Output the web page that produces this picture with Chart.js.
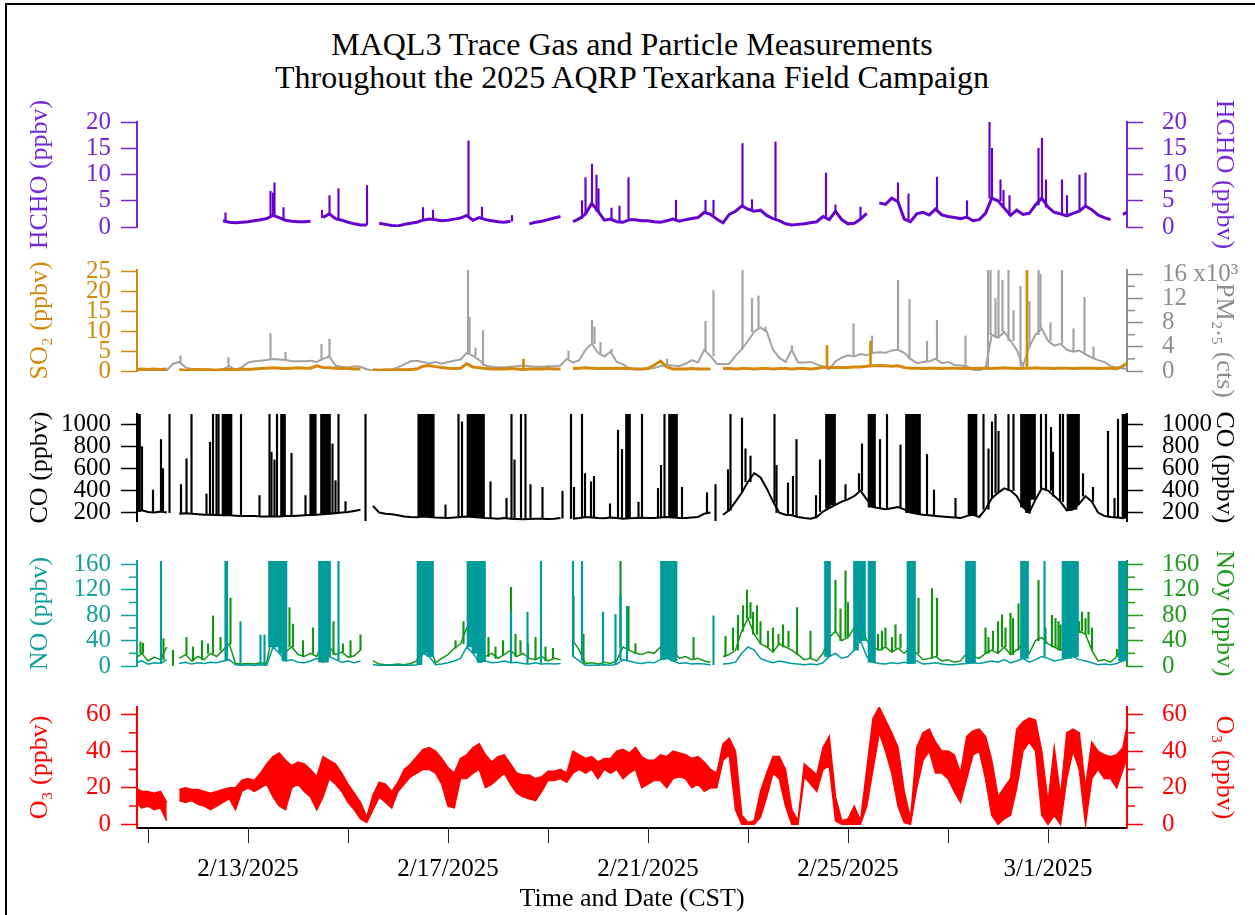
<!DOCTYPE html>
<html lang="en">
<head>
<meta charset="utf-8">
<title>MAQL3 - 2025 AQRP Texarkana</title>
<script src="https://cdn.jsdelivr.net/npm/chart.js@4.4.1/dist/chart.umd.min.js"></script>
<style>
body { margin: 0; background: #fff; font-family: 'Liberation Serif', 'Times New Roman', serif; }
#page { position: relative; width: 1255px; height: 915px; overflow: hidden; }
#frame { position: absolute; left: 5px; top: 3px; width: 1270px; height: 930px; border-left: 2px solid #000; border-top: 2px solid #000; }
#title { position: absolute; left: 132px; width: 1000px; top: 28px; text-align: center; font-size: 32px; line-height: 33px; color: #000; }
canvas { position: absolute; left: 0; }
</style>
</head>
<body>
<div id="page">
  <div id="frame"></div>
  <div id="title">MAQL3 Trace Gas and Particle Measurements<br>Throughout the 2025 AQRP Texarkana Field Campaign</div>
  <canvas id="cHcho"></canvas>
  <canvas id="cSo2"></canvas>
  <canvas id="cCo"></canvas>
  <canvas id="cNo"></canvas>
  <canvas id="cO3"></canvas>
</div>
<script>
// time in days since 2/10/2025 00:00 CST; series below are 3-hour values starting 2/10 18:00
const T0 = 0.75, STEP = 0.125;
const XMIN = 0.78, XMAX = 20.58;
const dayTicks = [1, 3, 5, 7, 9, 11, 13, 15, 17, 19];
const dayLabels = [3, 7, 11, 15, 19];

// one row = one day (8 x 3 h)
const hcho = [
  null,null,null,null,null,null,null,null,
  null,null,null,null,null,null,1.2,0.9,
  0.8,0.9,1.0,1.2,1.4,1.6,2.2,1.8,
  1.3,1.1,1.0,1.0,1.1,null,1.8,2.5,
  1.6,1.3,0.9,0.6,0.4,0.4,null,0.7,
  0.5,0.3,0.2,0.5,0.7,0.9,1.3,1.5,
  1.4,1.2,1.3,1.5,1.7,2.2,1.3,1.8,
  1.4,1.2,1.0,0.9,1.1,null,null,0.6,
  0.9,1.1,1.4,1.7,2.0,null,1.0,1.6,
  2.5,4.5,3.0,1.3,1.5,1.0,0.9,1.4,
  1.4,1.2,1.2,1.0,0.9,1.2,1.5,1.1,
  1.4,1.6,1.8,2.8,2.4,1.5,0.8,2.4,
  3.0,4.0,3.4,3.0,3.2,2.2,1.6,1.2,
  0.6,0.4,0.5,0.6,0.8,1.0,2.0,1.4,
  3.0,1.4,0.6,0.7,1.5,2.6,null,4.6,
  4.3,5.5,4.8,1.5,1.0,2.5,2.8,2.3,
  3.4,2.3,2.0,1.8,1.6,1.9,1.2,1.4,
  2.6,5.5,5.0,3.6,2.2,3.2,2.4,2.6,
  4.2,5.5,3.8,2.8,2.5,2.1,2.6,3.0,
  4.0,3.3,2.3,1.8,1.4,null,2.4,3.0
];
const so2 = [
  0.4,0.5,0.4,0.5,0.4,0.5,null,0.3,
  0.2,0.3,0.4,0.3,0.3,0.2,0.3,0.4,
  0.3,0.5,0.4,0.5,0.6,0.7,0.8,0.7,
  0.6,0.7,0.8,0.7,0.7,1.3,0.9,0.8,
  0.7,0.6,0.6,0.5,0.5,null,0.3,0.2,
  0.3,0.2,0.3,0.3,0.4,0.5,1.2,1.4,
  1.1,0.9,0.7,0.6,0.7,1.8,1.0,0.8,
  0.6,0.5,0.5,0.5,0.6,0.5,0.4,0.5,
  0.5,0.5,0.6,0.5,0.5,null,0.6,0.7,
  0.8,0.7,0.6,0.6,0.6,0.7,0.6,0.6,
  0.5,0.5,0.6,1.5,2.5,1.0,0.5,0.5,
  0.5,0.6,0.5,0.5,0.5,null,0.6,0.6,
  0.5,0.6,0.6,0.5,0.6,0.6,0.5,0.6,
  0.6,0.5,0.6,0.6,0.5,0.6,1.0,0.9,
  0.9,0.9,0.9,1.0,1.0,1.2,1.3,1.4,
  1.3,1.2,1.3,0.9,0.7,0.7,0.6,0.7,
  0.7,0.6,0.7,0.7,0.6,0.7,0.6,0.7,
  0.7,0.6,0.7,0.8,0.7,0.6,0.7,0.7,
  0.8,0.7,0.7,0.6,0.7,0.7,0.6,0.7,
  0.7,0.7,0.6,0.7,0.7,0.6,1.2,2.5
];
// PM2.5 in thousands of counts
const pm25 = [
  0.1,0.1,0.1,0.1,0.1,0.1,1.2,1.5,
  0.6,0.3,0.2,0.3,0.1,0.2,0.3,0.8,
  0.2,0.6,1.4,1.6,1.7,1.8,2.0,1.9,
  1.8,1.6,1.6,1.6,1.7,1.5,2.0,2.4,
  0.9,0.7,0.6,0.8,0.7,0.3,0.1,0.0,
  0.1,0.3,0.6,1.1,1.6,1.7,1.5,1.3,
  1.5,1.2,1.5,1.7,1.9,3.0,2.5,1.8,
  0.9,0.7,0.6,0.6,0.7,0.8,0.9,0.8,
  0.7,0.7,0.8,0.8,0.9,2.0,1.4,1.8,
  3.5,4.5,3.0,2.4,3.2,1.5,1.1,0.4,
  0.3,0.3,0.4,0.5,0.8,1.0,0.9,0.8,
  1.2,1.8,1.4,3.5,2.5,1.2,1.1,1.2,
  2.5,3.6,5.0,6.5,7.2,6.5,3.5,2.2,
  1.5,3.5,1.4,1.4,1.5,1.1,0.7,0.3,
  1.6,2.2,2.6,2.4,2.8,2.6,3.0,3.1,
  3.0,3.4,3.5,3.0,2.0,1.3,1.5,1.6,
  2.0,1.3,1.5,1.0,0.9,0.8,0.2,0.1,
  0.5,6.0,5.5,6.5,5.0,3.5,0.8,4.0,
  6.0,7.0,5.0,4.2,4.5,3.5,3.2,3.4,
  2.8,2.2,1.8,1.5,0.8,0.6,0.4,0.3
];
const co = [
  210,220,205,200,210,200,null,190,
  195,190,185,180,180,178,175,175,
  172,170,168,168,165,165,165,165,
  168,170,172,175,178,180,185,190,
  195,200,205,215,225,null,260,200,
  190,185,175,165,160,158,165,160,
  155,152,150,155,160,165,160,155,
  150,148,145,150,145,142,140,142,
  145,143,142,145,150,null,145,150,
  160,155,150,148,155,150,145,148,
  150,152,150,150,155,160,155,150,
  150,155,160,190,200,null,180,220,
  300,380,480,560,520,420,300,200,
  180,175,160,150,145,160,210,240,
  270,300,320,350,400,320,250,240,
  230,240,250,230,200,190,180,175,
  170,165,160,155,150,170,180,160,
  230,330,380,420,400,350,250,200,
  320,420,400,350,300,220,230,280,
  350,300,200,170,160,155,150,400
];
const no = [
  5,8,3,5,4,10,null,4,
  6,3,5,4,6,5,8,10,
  2,1,2,1,2,1,30,20,
  8,10,6,5,8,12,6,15,
  10,6,8,5,8,null,2,1,
  1,1,1,1,1,2,20,15,
  2,3,5,8,12,30,20,6,
  8,5,6,8,5,6,4,3,
  5,3,4,3,4,null,15,8,
  1,1,1,2,1,3,10,8,
  5,4,6,5,10,12,8,4,
  5,3,4,3,2,null,3,4,
  6,20,30,25,12,8,5,8,
  6,4,3,2,3,2,5,15,
  20,12,15,25,40,15,6,4,
  3,5,4,6,4,8,3,4,
  5,3,2,2,3,4,5,4,
  6,8,6,10,5,8,12,6,
  10,15,12,8,10,12,15,10,
  8,5,2,3,2,4,8,20
];
const noy = [
  12,20,8,14,10,30,null,12,
  18,8,15,10,20,15,25,35,
  4,3,4,3,5,4,60,50,
  22,30,18,15,20,15,40,30,
  18,22,14,16,25,null,8,3,
  2,2,3,2,4,8,40,35,
  5,12,18,28,35,60,50,20,
  15,20,12,18,25,15,20,12,
  10,15,8,12,10,null,40,25,
  4,5,3,6,4,8,30,25,
  20,18,22,20,30,30,25,12,
  15,10,12,8,6,null,15,18,
  25,55,75,50,35,30,22,35,
  30,25,18,10,12,8,20,45,
  55,40,45,60,70,40,30,25,
  30,22,28,20,30,20,10,12,
  15,8,10,6,8,20,15,12,
  20,25,20,30,18,25,35,20,
  40,45,35,30,25,30,40,55,
  50,25,8,10,6,15,25,35
];
// O3: upper and lower edge of the noisy trace in each 3-hour step
const o3Hi = [
  20,18,18,17,18,12,null,19,
  20,19,19,18,17,18,19,20,
  20,24,25,24,28,33,37,39,
  35,32,34,33,30,26,37,35,
  33,28,22,17,12,4,16,23,
  22,18,23,30,33,37,41,42,
  40,36,31,28,36,38,42,44,
  38,34,37,38,33,28,27,27,
  25,26,29,29,30,28,40,38,
  36,37,34,36,36,40,41,39,
  42,37,35,35,38,37,40,39,
  38,36,37,34,30,28,44,47,
  40,5,1,2,18,28,37,37,
  30,8,2,33,30,27,42,48,
  15,2,3,10,2,30,58,64,
  57,50,42,18,3,42,50,52,
  45,40,40,38,28,48,51,52,
  48,35,15,20,25,52,56,58,
  57,40,12,42,15,50,52,50,
  20,45,40,38,37,38,42,60
];
const o3Lo = [
  12,9,10,8,9,2,null,13,
  12,13,11,10,8,10,12,14,
  8,18,20,18,20,22,15,10,
  8,20,22,18,15,8,15,25,
  22,18,12,8,3,1,8,15,
  12,9,18,22,26,28,30,30,
  28,22,10,9,25,25,28,30,
  20,22,25,28,22,17,15,14,
  13,18,24,24,25,23,28,30,
  28,30,25,30,28,30,25,28,
  30,20,22,24,24,20,25,26,
  25,20,22,18,20,20,35,38,
  8,0,0,0,4,15,28,25,
  10,0,0,26,22,18,30,32,
  2,0,0,0,0,10,30,50,
  40,28,10,1,0,20,35,40,
  28,28,25,18,12,25,38,40,
  25,5,0,3,5,20,40,45,
  40,5,0,5,0,25,40,30,
  0,25,30,25,25,20,30,40
];

// short excursions [day, peak value]
const hchoSpikes = [[2.55,2.7],[3.45,6.8],[3.5,6.5],[3.53,8.4],[3.71,3.7],[4.48,3.2],[4.63,6.0],[4.81,7.3],[5.38,7.9],[6.5,3.7],[6.7,3.2],[7.41,16.4],[7.68,3.8],[8.28,2.2],[9.68,5.0],[9.75,9.4],[9.88,12],[9.97,9.9],[10.01,7.3],[10.27,3.6],[10.43,4.0],[10.61,9.4],[11.56,5.1],[12.15,5.1],[12.31,5.1],[12.89,15.9],[13.08,5.2],[13.55,16.2],[14.56,10.3],[14.75,4.2],[15.25,3.8],[16.0,8.4],[16.21,6.3],[16.78,9.5],[17.38,5.0],[17.83,20],[17.88,15],[18.05,9.0],[18.11,7.0],[18.23,6.0],[18.81,15],[18.88,16.9],[18.96,9.0],[19.28,9.0],[19.38,6.0],[19.63,9.9],[19.75,10.3]];
const so2Spikes = [[8.51,3.0],[14.58,6.4],[15.45,7.5],[18.58,26]];
const pmSpikes = [[1.65,2.5],[2.61,2.2],[3.45,6.2],[3.75,3.1],[4.47,4.4],[4.63,5.3],[7.4,17],[7.43,8.9],[7.55,3.8],[7.7,6.7],[9.41,3.3],[9.88,8.4],[9.93,7.3],[10.05,4.7],[10.27,3.6],[11.38,2.0],[12.15,8.2],[12.31,13.3],[12.89,17],[13.08,12],[13.21,12.4],[13.35,7.3],[13.88,4.2],[15.11,7.8],[15.48,5.8],[16.0,15],[16.23,11.8],[16.58,4.9],[16.78,8.4],[17.35,5.8],[17.8,17],[17.85,17],[17.95,12],[18.01,17],[18.09,15],[18.21,17],[18.31,10],[18.45,14],[18.63,11.5],[18.81,17],[18.85,16],[19.05,8],[19.28,17],[19.51,7],[19.73,12.2],[19.91,4.0]];
const coSpikes = [[0.88,800],[1.1,405],[1.26,865],[1.3,600],[1.43,1100],[1.66,455],[1.77,690],[1.87,1100],[2.17,370],[2.24,840],[2.3,1100],[2.37,1100],[2.41,1100],[2.86,1100],[3.23,355],[3.43,1100],[3.47,750],[3.53,680],[3.58,1100],[3.87,740],[4.15,355],[4.25,1100],[4.35,1100],[4.69,825],[4.75,490],[4.81,1100],[4.95,300],[5.35,1100],[6.41,1100],[6.71,1100],[6.95,270],[7.21,1100],[7.28,1025],[7.85,480],[8.17,330],[8.27,1100],[8.33,680],[8.46,1100],[8.55,1100],[8.65,455],[8.89,430],[9.29,395],[9.46,1100],[9.52,430],[9.68,1100],[9.74,555],[9.86,480],[9.92,530],[10.24,280],[10.4,950],[10.48,775],[10.81,295],[10.88,1100],[11.2,420],[11.26,630],[11.33,1100],[11.68,430],[12.18,380],[12.35,455],[12.6,590],[12.65,1100],[12.88,1060],[12.95,780],[13.05,715],[13.53,1100],[13.57,630],[13.8,470],[13.9,530],[13.97,865],[14.36,355],[14.44,680],[14.95,455],[15.22,555],[15.28,825],[15.64,865],[15.78,1100],[16.05,815],[16.58,730],[16.72,405],[17.15,330],[17.71,1100],[17.81,780],[17.88,1025],[17.95,1100],[18.01,940],[18.21,1100],[18.31,1100],[18.86,1100],[18.96,1100],[19.06,975],[19.1,750],[19.24,1100],[19.3,1100],[19.7,555],[19.9,430],[20.2,940],[20.33,330],[20.4,1050]];
// dense bursts (many spikes packed together)
const coBursts = [[0.8,1100],[2.53,1100],[2.63,1100],[3.7,1100],[4.3,1100],[4.5,1100],[4.6,1100],[6.46,1100],[6.56,1100],[6.66,1100],[7.43,1100],[7.53,1100],[7.63,1100],[7.68,1100],[10.6,1100],[11.46,1100],[11.54,1100],[14.6,1100],[14.7,1100],[15.45,1100],[15.5,1100],[16.2,1100],[16.3,1100],[16.4,1100],[17.45,1100],[17.53,1100],[18.5,1100],[18.6,1100],[18.7,1100],[19.43,1100],[19.53,1100],[19.58,1100],[20.53,1100],[20.56,1100]];
const noSpikes = [[1.26,166],[2.55,166],[2.58,166],[2.85,70],[3.25,49],[3.33,49],[4.81,166],[8.26,85],[8.59,85],[8.86,166],[9.5,166],[9.68,166],[10.1,85],[10.35,81],[10.45,111],[10.58,94],[12.31,79],[18.93,166]];
const noBursts = [[3.46,166],[3.56,166],[3.66,166],[3.73,166],[4.46,166],[4.56,166],[4.6,166],[6.43,166],[6.53,166],[6.63,166],[6.66,166],[7.43,166],[7.53,166],[7.63,166],[7.7,166],[11.3,166],[11.4,166],[11.5,166],[11.53,166],[14.58,166],[14.6,166],[15.16,166],[15.25,166],[15.3,166],[15.45,166],[15.5,166],[16.23,166],[16.3,166],[17.4,166],[17.5,166],[18.5,166],[18.56,166],[19.33,166],[19.43,166],[19.53,166],[19.56,166],[20.46,166],[20.56,166]];
const noySpikes = [[0.85,38],[0.9,36],[1.31,43],[1.5,25],[1.77,45],[1.9,30],[2.08,40],[2.2,35],[2.3,79],[2.45,45],[2.65,107],[3.48,132],[3.83,92],[3.9,66],[4.1,40],[4.3,60],[4.45,45],[4.71,70],[4.9,35],[5.05,40],[5.25,49],[6.68,140],[7.15,40],[7.31,70],[7.81,45],[7.95,30],[8.1,40],[8.26,124],[8.35,50],[8.45,40],[8.6,35],[8.75,45],[8.95,30],[9.1,28],[9.51,110],[9.71,50],[10.45,166],[10.61,94],[10.75,35],[11.91,45],[12.55,47],[12.7,60],[12.8,80],[12.9,95],[12.98,120],[13.05,100],[13.1,85],[13.18,95],[13.25,70],[13.4,55],[13.5,60],[13.61,50],[13.7,65],[13.81,55],[13.98,92],[14.25,55],[14.75,135],[14.85,90],[14.95,150],[15.0,100],[15.6,50],[15.68,55],[15.75,60],[15.88,45],[15.95,65],[16.05,50],[16.41,107],[16.68,122],[16.78,107],[17.75,60],[17.81,45],[17.9,55],[18.0,70],[18.08,81],[18.15,60],[18.25,83],[18.3,75],[18.41,98],[18.81,135],[18.95,60],[19.08,80],[19.15,75],[19.21,70],[19.25,65],[19.62,70],[19.68,85],[19.75,75],[19.81,85],[19.88,60],[20.38,26]];

const FONT = "'Liberation Serif', 'Times New Roman', serif";
Chart.defaults.font.family = FONT;

function dateLabel(d) {
  const dt = new Date(2025, 1, 10 + d);
  return (dt.getMonth() + 1) + '/' + dt.getDate() + '/' + dt.getFullYear();
}

function baseAt(vals, t) {
  const i = Math.max(0, Math.min(vals.length - 1, Math.round((t - T0) / STEP)));
  return vals[i] == null ? 0 : vals[i];
}

function line(vals, color, width, axis, order, fill) {
  return {
    type: 'line', yAxisID: axis, order: order,
    data: vals.map((v, i) => ({ x: T0 + i * STEP, y: v })),
    borderColor: color, borderWidth: width, pointRadius: 0, tension: 0, spanGaps: false,
    fill: fill || false, backgroundColor: color
  };
}

function spikes(list, vals, color, thick, axis, order) {
  return {
    type: 'bar', yAxisID: axis, order: order, grouped: false,
    data: list.map(([t, v]) => ({ x: t, y: [baseAt(vals, t), v] })),
    backgroundColor: color, borderWidth: 0, barThickness: thick
  };
}

function yAxis(pos, color, min, max, ticks, title, label, titleAlign) {
  const left = pos === 'left';
  return {
    type: 'linear', position: pos, min: min, max: max,
    afterBuildTicks: s => { s.ticks = ticks.map(v => ({ value: v })); },
    afterFit: s => { s.width = left ? 137 : 128; },
    border: { display: true, color: color, width: 2 },
    grid: { drawOnChartArea: false, drawTicks: true, tickLength: 16, tickColor: color, tickWidth: 1.5 },
    ticks: { color: color, autoSkip: false, padding: left ? 10 : 19, font: { family: FONT, size: 25 },
             callback: label || (v => v) },
    title: { display: true, text: title, color: color, align: titleAlign || 'center',
             font: { family: FONT, size: 26 },
             padding: { top: left ? 25 : 16, bottom: 0 } }
  };
}

const hiddenX = { type: 'linear', display: false, min: XMIN, max: XMAX, offset: false };

const minorTickPlugin = {
  id: 'minorTicks',
  afterDraw(chart, args, opts) {
    const ctx = chart.ctx;
    (opts.list || []).forEach(m => {
      const s = chart.scales[m.axis];
      const left = s.position === 'left';
      const x0 = left ? s.right : s.left;
      ctx.save();
      ctx.strokeStyle = m.color;
      ctx.lineWidth = 1.5;
      m.values.forEach(v => {
        const y = s.getPixelForValue(v);
        ctx.beginPath();
        ctx.moveTo(x0, y);
        ctx.lineTo(left ? x0 - 8 : x0 + 8, y);
        ctx.stroke();
      });
      ctx.restore();
    });
  }
};

function makeChart(id, top, bottom, last, datasets, scales, minor) {
  const cv = document.getElementById(id);
  const cTop = top - 22;
  const cBottom = last ? 915 : bottom + 22;
  cv.width = 1255;
  cv.height = cBottom - cTop;
  cv.style.top = cTop + 'px';
  return new Chart(cv, {
    type: 'line',
    data: { datasets: datasets },
    options: {
      responsive: false, animation: false, devicePixelRatio: 1, events: [],
      layout: { padding: { top: 22, bottom: last ? 0 : 22, left: 0, right: 0 } },
      plugins: { legend: { display: false }, tooltip: { enabled: false }, minorTicks: { list: minor || [] } },
      scales: scales
    },
    plugins: [minorTickPlugin]
  });
}

// colours
const cHCHO = '#6600cc', cHCHOax = '#7426d9';
const cSO2 = '#d4880c', cPM = '#a3a3a3', cPMax = '#8e8e8e';
const cNO = '#009c9c', cNOax = '#159e9e', cNOY = '#129612', cNOYax = '#1f9a1f';
const cO3 = '#ff0000';

makeChart('cHcho', 110, 239, false, [
  spikes(hchoSpikes, hcho, cHCHO, 1.5, 'yL', 1),
  line(hcho, cHCHO, 3, 'yL', 0)
], {
  x: hiddenX,
  yL: yAxis('left', cHCHOax, 0, 20, [0, 5, 10, 15, 20], 'HCHO (ppbv)'),
  yR: yAxis('right', cHCHOax, 0, 20, [0, 5, 10, 15, 20], 'HCHO (ppbv)')
});

makeChart('cSo2', 258, 383, false, [
  spikes(so2Spikes, so2, cSO2, 2, 'yL', 0),
  line(so2, cSO2, 3, 'yL', 1),
  spikes(pmSpikes, pm25, cPM, 1.5, 'yR', 2),
  line(pm25, cPM, 2, 'yR', 3)
], {
  x: hiddenX,
  yL: yAxis('left', cSO2, 0, 25.4, [0, 5, 10, 15, 20, 25], 'SO\u2082 (ppbv)'),
  // title starts below the "x10³" label, as in the original
  yR: yAxis('right', cPMax, 0, 16.7, [0, 4, 8, 12, 16], '\u00a0\u00a0PM\u2082.\u2085 (cts)',
            v => v === 16 ? '16 x10\u00b3' : v, 'end')
}, [{ axis: 'yR', color: cPMax, values: [2, 6, 10, 14] }]);

makeChart('cCo', 402, 533, false, [
  spikes(coBursts, co, '#000', 5, 'yL', 0),
  spikes(coSpikes, co, '#000', 1.5, 'yL', 1),
  line(co, '#000', 2, 'yL', 2)
], {
  x: hiddenX,
  yL: yAxis('left', '#000', 123.5, 1097, [200, 400, 600, 800, 1000], 'CO (ppbv)'),
  yR: yAxis('right', '#000', 123.5, 1097, [200, 400, 600, 800, 1000], 'CO (ppbv)')
});

makeChart('cNo', 549, 678, false, [
  spikes(noBursts, no, cNO, 5, 'yL', 0),
  spikes(noSpikes, no, cNO, 1.5, 'yL', 1),
  line(no, cNO, 1.5, 'yL', 2),
  spikes(noySpikes, noy, cNOY, 1.5, 'yR', 3),
  line(noy, cNOY, 1.5, 'yR', 4)
], {
  x: hiddenX,
  yL: yAxis('left', cNOax, 0, 165.5, [0, 40, 80, 120, 160], 'NO (ppbv)'),
  yR: yAxis('right', cNOYax, 0, 165.5, [0, 40, 80, 120, 160], 'NOy (ppbv)')
}, [{ axis: 'yL', color: cNOax, values: [20, 60, 100, 140] },
    { axis: 'yR', color: cNOYax, values: [20, 60, 100, 140] }]);

makeChart('cO3', 695, 828, true, [
  line(o3Hi, cO3, 1.5, 'yL', 0, '+1'),
  line(o3Lo, cO3, 1.5, 'yL', 1)
], {
  x: {
    type: 'linear', min: XMIN, max: XMAX, offset: false,
    afterBuildTicks: s => { s.ticks = dayTicks.map(v => ({ value: v })); },
    afterFit: s => { s.height = 87; },
    border: { display: true, color: '#000', width: 2 },
    grid: { drawOnChartArea: false, drawTicks: true, tickLength: 15, tickColor: '#222', tickWidth: 1 },
    ticks: { color: '#000', autoSkip: false, maxRotation: 0, padding: 11, font: { family: FONT, size: 25 },
             callback: v => dayLabels.includes(v) ? dateLabel(v) : '' },
    title: { display: true, text: 'Time and Date (CST)', color: '#000', font: { family: FONT, size: 26 },
             padding: { top: 0, bottom: 0 } }
  },
  yL: yAxis('left', cO3, -1.99, 64.1, [0, 20, 40, 60], 'O\u2083 (ppbv)'),
  yR: yAxis('right', cO3, -1.99, 64.1, [0, 20, 40, 60], 'O\u2083 (ppbv)')
}, [{ axis: 'yL', color: cO3, values: [10, 30, 50] },
    { axis: 'yR', color: cO3, values: [10, 30, 50] }]);
</script>
</body>
</html>
